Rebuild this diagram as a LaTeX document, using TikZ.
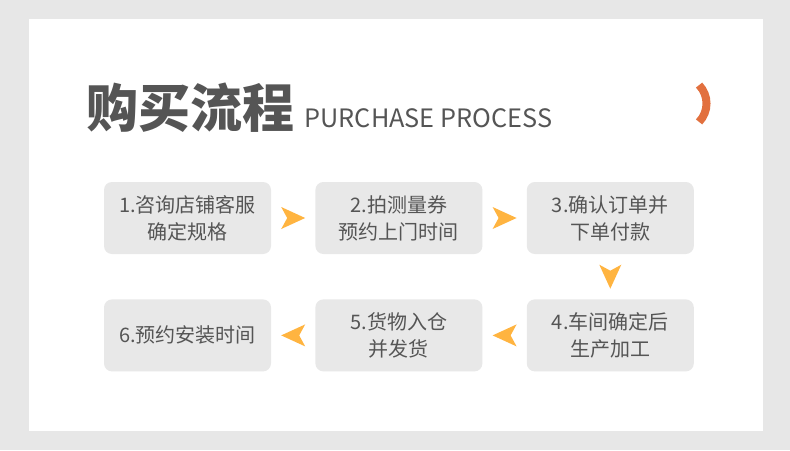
\documentclass[tikz,border=0pt]{standalone}
\usepackage{fontspec}
\setmainfont{Noto Sans CJK SC}
\usetikzlibrary{positioning}
\definecolor{PanelGray}{HTML}{E7E7E7}
\definecolor{BoxGray}{HTML}{E8E8E8}
\definecolor{TextGray}{HTML}{555555}
\definecolor{TipOrange}{HTML}{FFB440}
\definecolor{ArcOrange}{HTML}{E2703E}

\begin{document}
\begin{tikzpicture}[x=1pt,y=-1pt,
  stepbox/.style={fill=BoxGray,rounded corners=8pt,minimum width=167pt,minimum height=72pt,
    inner sep=0pt,align=center,text=TextGray,font=\fontsize{20}{27}\selectfont},
  chevron/.pic={\fill[TipOrange] (12,0) -- (-12,11) -- (-6,0) -- (-12,-11) -- cycle;},
  flowtip/.style={pos=.5,sloped,allow upside down}]
\useasboundingbox[fill=PanelGray] (0,0) rectangle (790,450);
\fill[white] (29,19) rectangle (763,431);
\node[anchor=base west,inner sep=0pt,text=TextGray,font=\fontsize{52}{52}\selectfont\bfseries] (title) at (86,127) {购买流程};
\node[anchor=base west,inner sep=0pt,text=TextGray,font=\fontsize{25.3}{26}\selectfont] (subtitle) at ([xshift=10pt]title.base east) {PURCHASE PROCESS};
\draw[ArcOrange,line width=8pt] (680,103.5) ++(-44:26.5) arc (-44:44:26.5);
\node[stepbox] (b1) at (187.5,218) {1.咨询店铺客服\\确定规格};
\node[stepbox,right=44pt of b1] (b2) {2.拍测量券\\预约上门时间};
\node[stepbox,right=44pt of b2] (b3) {3.确认订单并\\下单付款};
\node[stepbox,below=45pt of b3] (b4) {4.车间确定后\\生产加工};
\node[stepbox,below=45pt of b2] (b5) {5.货物入仓\\并发货};
\node[stepbox,below=45pt of b1] (b6) {6.预约安装时间};
\path (b1) -- (b2) pic[flowtip]{chevron};
\path (b2) -- (b3) pic[flowtip]{chevron};
\path (b3) -- (b4) pic[flowtip]{chevron};
\path (b4) -- (b5) pic[flowtip]{chevron};
\path (b5) -- (b6) pic[flowtip]{chevron};
\end{tikzpicture}
\end{document}
